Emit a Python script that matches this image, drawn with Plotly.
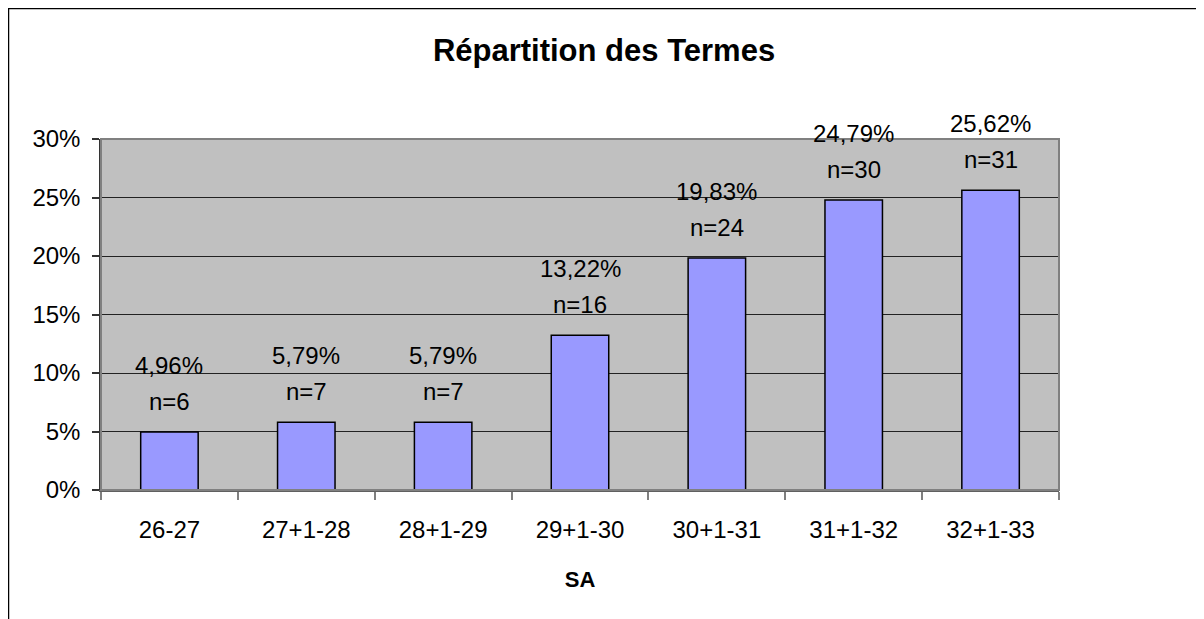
import plotly.graph_objects as go

# données
categories = ["26-27", "27+1-28", "28+1-29", "29+1-30", "30+1-31", "31+1-32", "32+1-33"]
pourcentages = [4.96, 5.79, 5.79, 13.22, 19.83, 24.79, 25.62]
effectifs = [6, 7, 7, 16, 24, 30, 31]
y_ticks = [0, 5, 10, 15, 20, 25, 30]
y_labels = [f"{v}%" for v in y_ticks]

W, H = 1204, 619
# la page ajoute une marge de 8 px autour de la figure
ml, mr, mt, mb = 93, 153, 131, 137
pw, ph = W - ml - mr, H - mt - mb

police = "Liberation Sans, Arial, sans-serif"

fig = go.Figure()
fig.add_trace(go.Bar(
    x=categories, y=pourcentages,
    marker=dict(color="#9999FF", line=dict(color="black", width=1.5)),
    width=0.42, cliponaxis=False, hoverinfo="skip",
))

# étiquettes au-dessus des barres (deux lignes)
for cat, p, n in zip(categories, pourcentages, effectifs):
    fig.add_annotation(x=cat, y=p, text=f"n={n}", showarrow=False,
                       yanchor="bottom", yshift=15,
                       font=dict(family=police, size=24, color="black"))
    fig.add_annotation(x=cat, y=p, text=f"{p:.2f}%".replace(".", ","), showarrow=False,
                       yanchor="bottom", yshift=51,
                       font=dict(family=police, size=24, color="black"))

def px_x(v):
    return (v - ml) / pw

def px_y(v):
    return 1 - (v - mt) / ph

# cadre extérieur
fig.add_shape(type="rect", xref="paper", yref="paper",
              x0=px_x(0.5), x1=px_x(1189), y0=px_y(640), y1=px_y(0.5),
              line=dict(color="black", width=1.5), layer="below")
# bordure de la zone de tracé
fig.add_shape(type="rect", xref="paper", yref="paper",
              x0=0, x1=1, y0=0, y1=1,
              line=dict(color="#808080", width=2), layer="above")

fig.update_layout(
    width=W, height=H,
    margin=dict(l=ml, r=mr, t=mt, b=mb),
    paper_bgcolor="white", plot_bgcolor="#C0C0C0",
    showlegend=False,
    title=dict(text="<b>Répartition des Termes</b>", x=596 / W, xref="container",
               xanchor="center", y=1 - 42 / H, yanchor="middle",
               font=dict(family=police, size=31, color="black")),
    font=dict(family=police, size=24, color="black"),
)
fig.update_xaxes(
    type="category", tickson="boundaries", ticks="outside", ticklen=8,
    tickcolor="#808080", tickwidth=1.5, showgrid=False,
    showline=True, linecolor="#606060", linewidth=1.5,
    ticklabelstandoff=17,
    title=dict(text="<b>SA</b>", font=dict(family=police, size=22), standoff=30),
    range=[-0.5, len(categories) - 0.5],
)
fig.update_yaxes(
    range=[0, 30], tickmode="array", tickvals=y_ticks, ticktext=y_labels,
    ticks="outside", ticklen=7, tickcolor="#333333", tickwidth=1.5,
    showgrid=True, gridcolor="#222222", gridwidth=1,
    showline=True, linecolor="#333333", linewidth=1.5,
    ticklabelstandoff=7, zeroline=False,
)

fig.write_html("out.html")
